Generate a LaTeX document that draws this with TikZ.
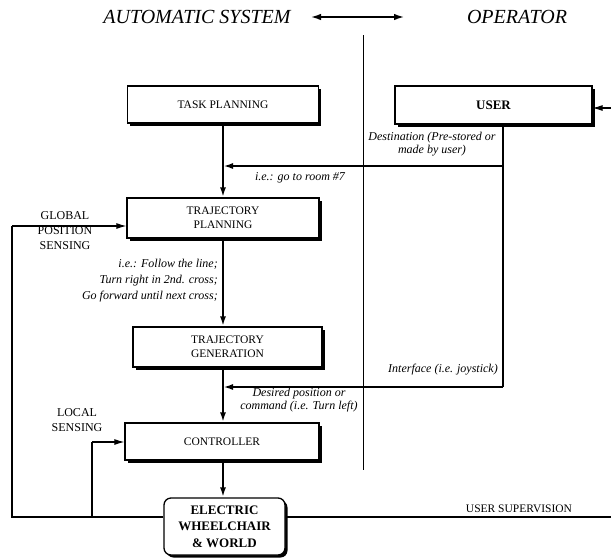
\documentclass[tikz,border=0pt]{standalone}
\usepackage{fontspec}
\setmainfont{Liberation Serif}
\usetikzlibrary{arrows.meta,shadows}
\begin{document}
\begin{tikzpicture}[x=1pt,y=-1pt,
  blk/.style={draw,line width=1.3pt,fill=white,align=center,font=\fontsize{11.5}{14}\selectfont,
    inner sep=0pt,drop shadow={opacity=1,fill=black,shadow xshift=2.5pt,shadow yshift=-2.5pt}},
  conn/.style={line width=2.3pt},
  thin/.style={line width=1.1pt},
  arr/.style={-{Latex[length=10pt,width=6pt]}},
  lab/.style={font=\fontsize{12}{12.5}\selectfont\itshape,inner sep=1pt},
  side/.style={font=\fontsize{12}{15}\selectfont,align=center,inner sep=0pt},
  title/.style={font=\fontsize{20}{22}\selectfont\itshape}]
\useasboundingbox (0,0) rectangle (611,558);

% titles
\node[title] (ta) at (197,17) {AUTOMATIC SYSTEM};
\node[title] (to) at (517,17) {OPERATOR};
\coordinate (dl) at (310,17);
\coordinate (dr) at (405,17);
\draw[line width=2.3pt,{Latex[length=11pt,width=6.5pt]}-{Latex[length=11pt,width=6.5pt]}] (dl) -- (dr);

% divider
\coordinate (vt) at (363,35);
\coordinate (vb) at (363,470);
\draw[line width=0.9pt] (vt) -- (vb);

% blocks
\node[blk,minimum width=191pt,minimum height=37pt] (task) at (223,104.5) {TASK PLANNING};
\node[blk,minimum width=197pt,minimum height=38pt,font=\fontsize{13}{15}\selectfont\bfseries] (user) at (493.5,105) {USER};
\node[blk,minimum width=192pt,minimum height=40pt] (tplan) at (223,218) {TRAJECTORY\\PLANNING};
\node[blk,minimum width=189pt,minimum height=40pt] (tgen) at (227.5,347) {TRAJECTORY\\GENERATION};
\node[blk,minimum width=194pt,minimum height=37pt] (ctrl) at (222,441.5) {CONTROLLER};
\node[blk,rounded corners=7pt,minimum width=121pt,minimum height=57pt,font=\fontsize{13}{16.5}\selectfont\bfseries] (wheel) at (224.5,526.5) {ELECTRIC\\WHEELCHAIR\\\& WORLD};

% main vertical flow
\draw[conn,arr] (task.south -| 223,0) -- (tplan.north -| 223,0);
\draw[conn,arr] (tplan.south -| 223,0) -- (tgen.north -| 223,0);
\draw[conn,arr] (tgen.south -| 223,0) -- (ctrl.north -| 223,0);
\draw[conn,arr] (ctrl.south -| 223,0) -- (wheel.north -| 223,0);

% user connections
\coordinate (ud) at (503,166);
\coordinate (ub) at (503,387);
\coordinate (m1) at (223,166);
\coordinate (m2) at (223,387);
\draw[conn] (user.south -| ub) -- (ub);
\draw[conn,arr] (ud) -- (m1);
\draw[conn,arr] (ub) -- (m2);

% labels
\node[lab,align=center] (ldest) at (432,144) {Destination (Pre-stored or\\made by user)};
\node[lab] (lroom) at (300,178) {i.e.: go to room \#7};
\node[lab,align=right,anchor=east] (lfol) at (219,281) {i.e.: Follow the line;\\[3.5pt]Turn right in 2nd. cross;\\[3.5pt]Go forward until next cross;};
\node[lab,anchor=east] (ljoy) at (499,370) {Interface (i.e. joystick)};
\node[lab,align=center] (ldes) at (299,400) {Desired position or\\command (i.e. Turn left)};

% feedback
\coordinate (bl) at (12,517);
\coordinate (gl) at (12,226);
\coordinate (ls) at (92,517);
\coordinate (lt) at (92,442);
\draw[thin] (wheel.west |- bl) -- (bl) -- (gl);
\draw[thin,arr] (gl) -- (tplan.west |- gl);
\draw[thin] (ls) -- (lt);
\draw[thin,arr] (lt) -- (ctrl.west |- lt);
\node[side] (lglob) at (65,231) {GLOBAL\\POSITION\\SENSING};
\node[side] (lloc) at (77,420) {LOCAL\\SENSING};

% user supervision
\coordinate (br) at (616,517);
\coordinate (tr) at (616,108);
\draw[thin] (wheel.east |- br) -- (br) -- (tr);
\draw[thin,arr] (tr) -- (user.east |- tr);
\node[side,font=\fontsize{11.5}{14}\selectfont] (lsup) at (519,509) {USER SUPERVISION};
\end{tikzpicture}
\end{document}
